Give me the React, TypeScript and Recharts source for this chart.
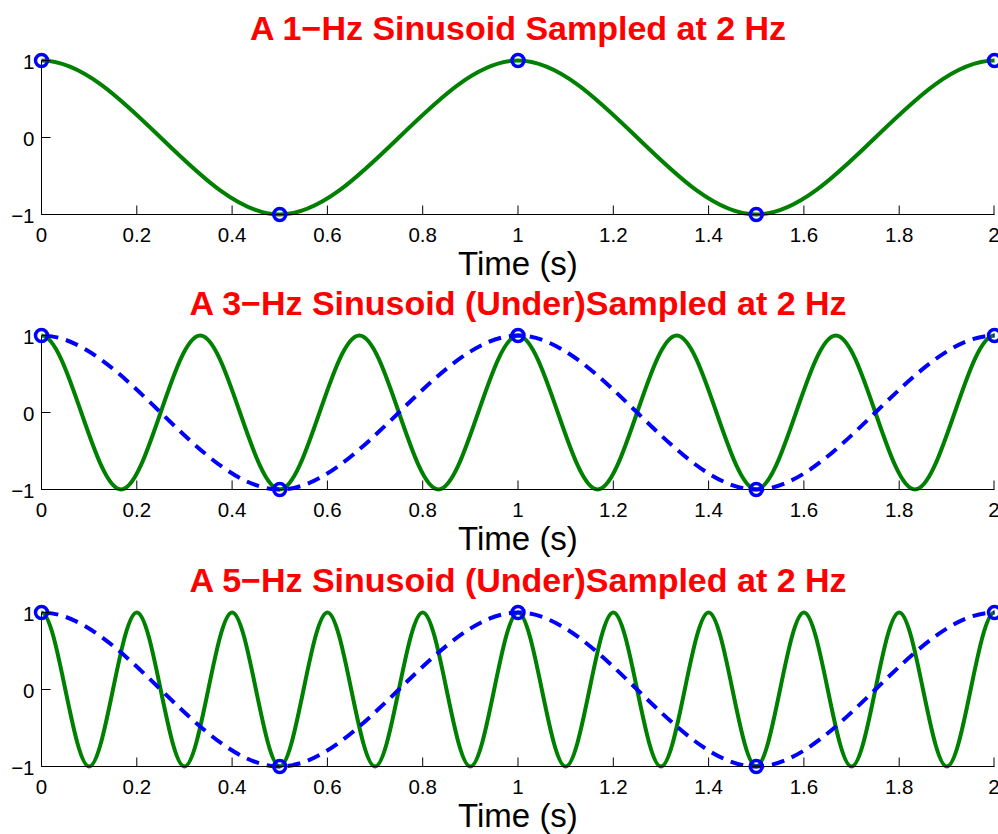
import React from "react";
import { LineChart, Line, XAxis, YAxis } from "recharts";

// tick labels
const TIME_TICKS = [0, 0.2, 0.4, 0.6, 0.8, 1, 1.2, 1.4, 1.6, 1.8, 2];
const AMP_TICKS = [-1, 0, 1];

const TITLES = [
  "A 1\u2212Hz Sinusoid Sampled at 2 Hz",
  "A 3\u2212Hz Sinusoid (Under)Sampled at 2 Hz",
  "A 5\u2212Hz Sinusoid (Under)Sampled at 2 Hz",
];
const X_LABEL = "Time (s)";

// samples taken at 2 Hz (blue circles)
const SAMPLE_T = [0, 0.5, 1, 1.5, 2];
const SAMPLE_V = [1, -1, 1, -1, 1];

// peaks and troughs of each green wave (one extra on each side, cut off by the frame)
const WAVE1_T = [-0.5, 0, 0.5, 1, 1.5, 2, 2.5];
const WAVE1_V = [-1, 1, -1, 1, -1, 1, -1];

const WAVE3_T = [
  -0.167, 0, 0.167, 0.333, 0.5, 0.667, 0.833, 1, 1.167, 1.333, 1.5, 1.667,
  1.833, 2, 2.167,
];
const WAVE3_V = [-1, 1, -1, 1, -1, 1, -1, 1, -1, 1, -1, 1, -1, 1, -1];

const WAVE5_T = [
  -0.1, 0, 0.1, 0.2, 0.3, 0.4, 0.5, 0.6, 0.7, 0.8, 0.9, 1, 1.1, 1.2, 1.3, 1.4,
  1.5, 1.6, 1.7, 1.8, 1.9, 2, 2.1,
];
const WAVE5_V = [
  -1, 1, -1, 1, -1, 1, -1, 1, -1, 1, -1, 1, -1, 1, -1, 1, -1, 1, -1, 1, -1, 1,
  -1,
];

// the 1 Hz alias seen by the samples (blue dashed)
const ALIAS_T = [-0.5, 0, 0.5, 1, 1.5, 2, 2.5];
const ALIAS_V = [-1, 1, -1, 1, -1, 1, -1];

const zip = (ts: number[], vs: number[]) =>
  ts.map((t, i) => ({ t, v: vs[i] }));

const PANELS = [
  { wave: zip(WAVE1_T, WAVE1_V), alias: null },
  { wave: zip(WAVE3_T, WAVE3_V), alias: zip(ALIAS_T, ALIAS_V) },
  { wave: zip(WAVE5_T, WAVE5_V), alias: zip(ALIAS_T, ALIAS_V) },
];
const SAMPLES = zip(SAMPLE_T, SAMPLE_V);

const PANEL_TOPS = [0, 275, 552];
const PLOT_TOP = 60.5;
const PLOT_BOTTOM = 214.5;

const FONT = "'Liberation Sans', Arial, Helvetica, sans-serif";
const TICK_LEN = 9;
const GREEN = "#008000";
const BLUE = "#0000ff";

const fmt = (v: number) => (v < 0 ? "\u2212" + Math.abs(v) : String(v));

const BottomTick = ({ x, y, payload }: any) => (
  <g>
    <line x1={x} x2={x} y1={y} y2={y - TICK_LEN} stroke="#000" />
    <text x={x} y={y + 27} textAnchor="middle" fontSize={20.5} fontFamily={FONT} fill="#000">
      {fmt(payload.value)}
    </text>
  </g>
);

const TopTick = ({ x, y }: any) => (
  <line x1={x} x2={x} y1={y} y2={y + TICK_LEN} stroke="#000" />
);

const LeftTick = ({ x, y, payload }: any) => (
  <g>
    <line x1={x} x2={x + TICK_LEN} y1={y} y2={y} stroke="#000" />
    <text x={x - 7} y={y + 8} textAnchor="end" fontSize={20.5} fontFamily={FONT} fill="#000">
      {fmt(payload.value)}
    </text>
  </g>
);

const RightTick = ({ x, y }: any) => (
  <line x1={x} x2={x - TICK_LEN} y1={y} y2={y} stroke="#000" />
);

const Panel = ({ panel, top }: any) => (
  <div style={{ position: "absolute", left: 0, top }}>
    <LineChart
      width={998}
      height={276}
      margin={{ top: PLOT_TOP, right: 3.5, bottom: 0, left: 0 }}
    >
      <XAxis
        type="number"
        dataKey="t"
        domain={[0, 2]}
        ticks={TIME_TICKS}
        allowDataOverflow
        height={276 - PLOT_BOTTOM}
        tickSize={0}
        tickMargin={0}
        tick={<BottomTick />}
        axisLine={{ stroke: "#000" }}
      />
      <XAxis
        xAxisId="top"
        orientation="top"
        type="number"
        dataKey="t"
        domain={[0, 2]}
        ticks={TIME_TICKS}
        height={0}
        tickSize={0}
        tickMargin={0}
        tick={<TopTick />}
        axisLine={{ stroke: "#000" }}
      />
      <YAxis
        type="number"
        domain={[-1, 1]}
        ticks={AMP_TICKS}
        width={41.5}
        tickSize={0}
        tickMargin={0}
        tick={<LeftTick />}
        axisLine={{ stroke: "#000" }}
      />
      <YAxis
        yAxisId="right"
        orientation="right"
        type="number"
        domain={[-1, 1]}
        ticks={AMP_TICKS}
        width={0}
        tickSize={0}
        tickMargin={0}
        tick={<RightTick />}
        axisLine={{ stroke: "#000" }}
      />
      <Line
        data={panel.wave}
        dataKey="v"
        type="monotone"
        stroke={GREEN}
        strokeWidth={4}
        dot={false}
        activeDot={false}
        isAnimationActive={false}
      />
      {panel.alias && (
        <Line
          data={panel.alias}
          dataKey="v"
          type="monotone"
          stroke={BLUE}
          strokeWidth={4}
          strokeDasharray="13 8"
          dot={false}
          activeDot={false}
          isAnimationActive={false}
        />
      )}
      <Line
        xAxisId="top"
        data={SAMPLES}
        dataKey="v"
        stroke="none"
        dot={{ r: 6, stroke: BLUE, strokeWidth: 3.5, fill: "none" }}
        activeDot={false}
        isAnimationActive={false}
      />
    </LineChart>
  </div>
);

export default function App() {
  const cx = (41.5 + 994.5) / 2;
  return (
    <div
      style={{
        position: "absolute",
        left: 0,
        top: 0,
        width: 998,
        height: 834,
        background: "#fff",
        overflow: "hidden",
      }}
    >
      {PANELS.map((p, i) => (
        <Panel key={i} panel={p} top={PANEL_TOPS[i]} />
      ))}
      <svg
        width={998}
        height={834}
        style={{ position: "absolute", left: 0, top: 0, pointerEvents: "none" }}
      >
        {PANEL_TOPS.map((t, i) => (
          <g key={i} fontFamily={FONT} textAnchor="middle">
            <text x={cx} y={t + PLOT_TOP - 21} fontSize={34} fontWeight="bold" fill="#ff0000">
              {TITLES[i]}
            </text>
            <text x={cx} y={t + PLOT_BOTTOM + 60} fontSize={33} fill="#000">
              {X_LABEL}
            </text>
          </g>
        ))}
      </svg>
    </div>
  );
}
